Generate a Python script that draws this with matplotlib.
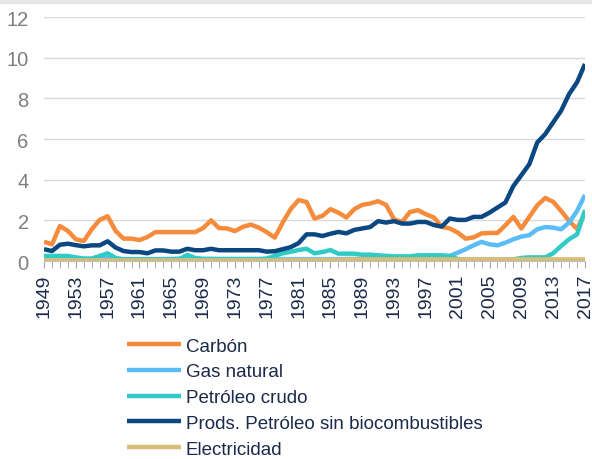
import matplotlib
matplotlib.use("Agg")
import matplotlib.pyplot as plt
import numpy as np

plt.rcParams['font.family'] = ['Liberation Sans', 'DejaVu Sans']

years = list(range(1949, 2018))

carbon = [0.95, 0.82, 1.72, 1.48, 1.07, 0.98, 1.56, 2.02, 2.2, 1.48,
          1.1, 1.1, 1.03, 1.18, 1.42, 1.42, 1.42, 1.42, 1.42, 1.42,
          1.62, 2.0, 1.62, 1.6, 1.47, 1.68, 1.79, 1.64, 1.42, 1.15,
          1.89, 2.55, 3.0, 2.9, 2.09, 2.22, 2.55, 2.38, 2.14, 2.55,
          2.76, 2.83, 2.94, 2.76, 2.05, 1.92, 2.41, 2.5, 2.3, 2.14,
          1.68, 1.6, 1.4, 1.1, 1.16, 1.36, 1.38, 1.38, 1.76, 2.17,
          1.6, 2.17, 2.74, 3.1, 2.91, 2.46, 1.97, 1.58, 2.35]

gas_natural = [0.12, 0.12, 0.12, 0.12, 0.12, 0.1, 0.1, 0.12, 0.15, 0.1,
               0.08, 0.08, 0.08, 0.08, 0.08, 0.1, 0.1, 0.12, 0.12, 0.1,
               0.1, 0.1, 0.08, 0.08, 0.08, 0.08, 0.08, 0.08, 0.08, 0.08,
               0.08, 0.08, 0.08, 0.08, 0.08, 0.08, 0.08, 0.08, 0.1, 0.1,
               0.12, 0.12, 0.1, 0.1, 0.1, 0.1, 0.1, 0.12, 0.12, 0.12,
               0.15, 0.25, 0.41, 0.58, 0.77, 0.94, 0.82, 0.77, 0.9, 1.07,
               1.2, 1.27, 1.56, 1.67, 1.64, 1.56, 1.89, 2.46, 3.25]

petroleo_crudo = [0.25, 0.25, 0.25, 0.25, 0.18, 0.12, 0.12, 0.25, 0.38, 0.15,
                  0.08, 0.08, 0.08, 0.08, 0.08, 0.08, 0.08, 0.08, 0.3, 0.15,
                  0.1, 0.1, 0.1, 0.1, 0.1, 0.1, 0.1, 0.1, 0.12, 0.25,
                  0.38, 0.45, 0.54, 0.6, 0.38, 0.44, 0.54, 0.36, 0.36, 0.36,
                  0.31, 0.31, 0.28, 0.25, 0.23, 0.23, 0.23, 0.28, 0.28, 0.28,
                  0.28, 0.25, 0.1, 0.06, 0.06, 0.06, 0.06, 0.06, 0.06, 0.08,
                  0.15, 0.18, 0.18, 0.18, 0.38, 0.74, 1.07, 1.31, 2.5]

prods_petroleo = [0.58, 0.49, 0.8, 0.85, 0.78, 0.72, 0.77, 0.77, 0.97, 0.66,
                  0.49, 0.44, 0.44, 0.38, 0.52, 0.52, 0.46, 0.46, 0.6, 0.53,
                  0.53, 0.6, 0.53, 0.53, 0.53, 0.53, 0.53, 0.53, 0.46, 0.48,
                  0.58, 0.68, 0.88, 1.31, 1.31, 1.23, 1.34, 1.43, 1.36, 1.53,
                  1.6, 1.67, 1.96, 1.89, 1.96, 1.84, 1.84, 1.92, 1.92, 1.77,
                  1.69, 2.09, 2.02, 2.02, 2.17, 2.17, 2.38, 2.63, 2.88, 3.69,
                  4.22, 4.76, 5.83, 6.24, 6.82, 7.39, 8.21, 8.79, 9.69]

electricidad = [0.03] * 35 + [0.05, 0.05, 0.05] + [0.08] * 31

series = [
    ("Carbón", carbon, "#f68b3b"),
    ("Gas natural", gas_natural, "#5bbdf8"),
    ("Petróleo crudo", petroleo_crudo, "#30cbc6"),
    ("Prods. Petróleo sin biocombustibles", prods_petroleo, "#0b4881"),
    ("Electricidad", electricidad, "#d6bd78"),
]

fig = plt.figure(figsize=(5.92, 4.60), dpi=100)
ax = fig.add_axes([44 / 592, 1 - 262 / 460, (585 - 44) / 592, (262 - 18) / 460])

for name, vals, col in series:
    ax.plot(years, vals, color=col, lw=3.2, label=name, solid_capstyle='butt')

ax.set_xlim(1949, 2017)
ax.set_ylim(0, 12)
ax.set_yticks(range(0, 13, 2))
ax.set_xticks(range(1949, 2018, 4))
ax.set_xticks(years, minor=True)
ax.grid(axis='y', color='#d9d9d9', lw=1)
ax.set_axisbelow(True)

for s in ['top', 'right', 'left']:
    ax.spines[s].set_visible(False)
ax.spines['bottom'].set_color('#bfbfbf')

ax.tick_params(axis='y', length=0, labelsize=14.5, labelcolor='#7f7f7f', pad=11)
ax.tick_params(axis='x', which='both', length=5, color='#a6a6a6', direction='out')
ax.tick_params(axis='x', labelsize=14, labelcolor='#1b2a4a', labelrotation=90, pad=4)

# light band at the very top of the picture
fig.patches.append(plt.Rectangle((0, 1 - 4 / 460), 1, 4 / 460, transform=fig.transFigure,
                                 color='#e6e6e6', zorder=0))

fig.legend(loc='upper left', bbox_to_anchor=(119 / 592, 1 - 331 / 460), frameon=False,
           fontsize=13.5, labelcolor='#1b2a4a', handlelength=2.9, handletextpad=0.27,
           labelspacing=0.46, borderaxespad=0)

fig.savefig("out.png", dpi=100)
